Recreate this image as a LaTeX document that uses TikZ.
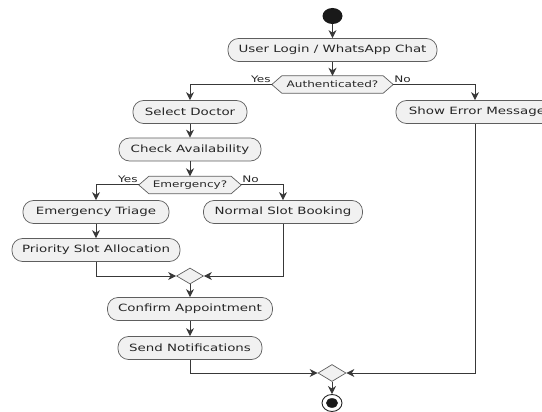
\documentclass[tikz,border=0pt]{standalone}
\usepackage{fontspec}
\setmainfont{DejaVu Sans}[FakeStretch=1.34]
\usetikzlibrary{arrows.meta,shapes.geometric,backgrounds}
\definecolor{boxfill}{HTML}{F1F1F1}
\definecolor{linec}{HTML}{383838}
\definecolor{boxline}{HTML}{5E5E5E}
\begin{document}
\begin{tikzpicture}[x=1pt,y=-1pt,
  act/.style={draw=boxline, fill=boxfill, rounded corners=10.5pt, minimum height=23pt,
    inner sep=0pt, font=\fontsize{10}{12}\selectfont, line width=0.7pt, text=black!85},
  hexn/.style={inner sep=0pt, minimum height=17pt, font=\fontsize{9}{11}\selectfont, text=black!85},
  hexshape/.style={draw=boxline, fill=boxfill, line width=0.7pt},
  merge/.style={diamond, draw=boxline, fill=boxfill, line width=0.7pt, inner sep=0pt,
    minimum width=27pt, minimum height=16pt},
  flow/.style={draw=linec, line width=1pt, -{Stealth[length=8pt,width=8pt,inset=2.5pt]}},
  lbl/.style={font=\fontsize{9}{11}\selectfont, inner sep=1pt, text=black!85}
]
\useasboundingbox (0,0) rectangle (542,412);
\clip (0,0) rectangle (542,412);

% start / end
\node[ellipse, fill=black!90, minimum width=20pt, minimum height=16pt, inner sep=0pt] (start) at (332.5,16) {};

\node[act, minimum width=209pt] (login) at (332.5,50) {User Login / WhatsApp Chat};
\node[hexn, minimum width=121pt] (auth) at (332.5,84.5) {Authenticated?};

\node[act, minimum width=114pt] (select) at (190,112) {Select Doctor};
\node[act, minimum width=142pt] (check) at (190,149.5) {Check Availability};
\node[hexn, minimum width=102pt] (emer) at (190,185) {Emergency?};

\node[act, minimum width=146pt] (triage) at (96,212) {Emergency Triage};
\node[act, minimum width=159pt] (normal) at (283,212) {Normal Slot Booking};
\node[act, minimum width=168pt] (priority) at (96,250) {Priority Slot Allocation};

\node[merge] (m1) at (190,276) {};
\node[act, minimum width=165pt] (confirm) at (190,309) {Confirm Appointment};
\node[act, minimum width=144pt] (send) at (190,348) {Send Notifications};

\node[act, minimum width=162pt] (error) at (477,112) {Show Error Message};

\node[merge, minimum width=28pt, minimum height=17pt] (m2) at (332,373) {};
\node[ellipse, draw=black!85, fill=white, line width=0.9pt, minimum width=20pt, minimum height=17pt, inner sep=0pt] (end) at (332,403) {};
\fill[black!90] (end.center) ellipse [x radius=6pt, y radius=4.8pt];

% hexagon outlines
\begin{scope}[on background layer]
\foreach \h in {auth,emer}{
  \draw[hexshape] (\h.west) -- ([xshift=10pt]\h.north west) -- ([xshift=-10pt]\h.north east)
    -- (\h.east) -- ([xshift=-10pt]\h.south east) -- ([xshift=10pt]\h.south west) -- cycle;
}
\end{scope}

% labels
\node[lbl, anchor=south east] (yes1) at ([yshift=1pt]auth.west) {Yes};
\node[lbl, anchor=south west] (no1) at ([yshift=1pt]auth.east) {No};
\node[lbl, anchor=south east] (yes2) at ([yshift=1pt]emer.west) {Yes};
\node[lbl, anchor=south west] (no2) at ([yshift=1pt]emer.east) {No};

% connectors
\draw[flow] (start) -- (login);
\draw[flow] (login) -- (auth);
\draw[flow] (auth.west) -| (select.north);
\draw[flow] (auth.east) -| ([xshift=-2pt]error.north);
\draw[flow] (select) -- (check);
\draw[flow] (check) -- (emer);
\draw[flow] (emer.west) -| (triage.north);
\draw[flow] (emer.east) -| (normal.north);
\draw[flow] (triage) -- (priority);
\draw[flow] (priority.south) |- (m1.west);
\draw[flow] (normal.south) |- (m1.east);
\draw[flow] (m1) -- (confirm);
\draw[flow] (confirm) -- (send);
\draw[flow] (send.south) |- (m2.west);
\draw[flow] ([xshift=-2pt]error.south) |- (m2.east);
\draw[flow] (m2) -- (end);
\end{tikzpicture}
\end{document}
